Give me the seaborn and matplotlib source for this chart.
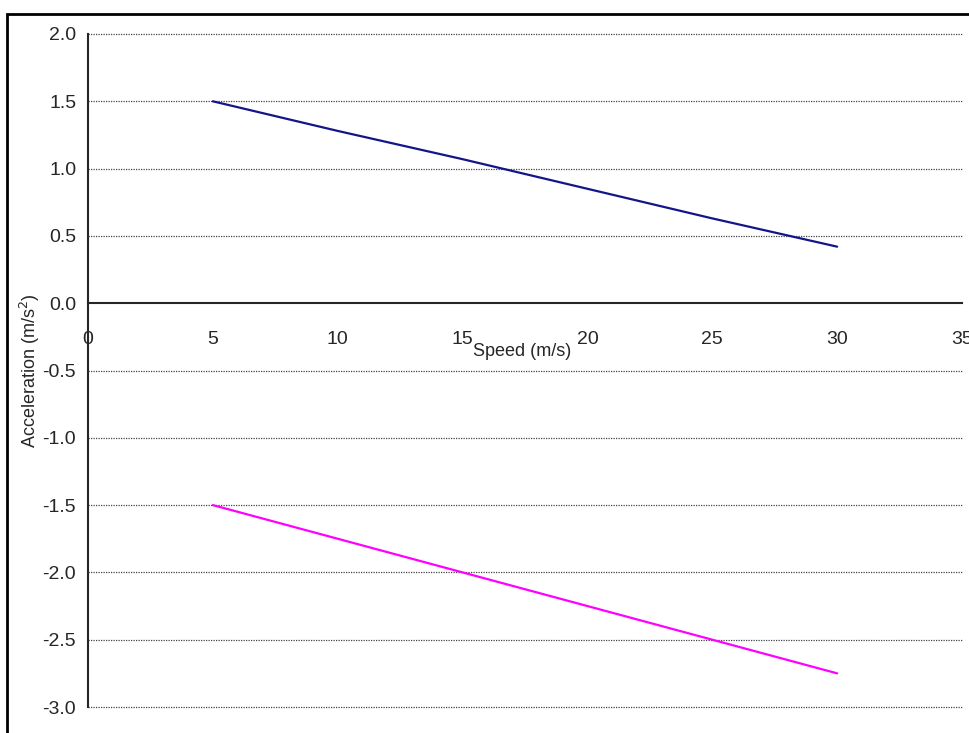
import matplotlib
matplotlib.use("Agg")
import matplotlib.pyplot as plt
import seaborn as sns
import pandas as pd
from matplotlib.patches import Rectangle

# values
speed = [5, 10, 15, 20, 25, 30]
accel_up = [1.5, 1.28, 1.07, 0.85, 0.63, 0.42]
accel_down = [-1.5, -1.75, -2.0, -2.25, -2.5, -2.75]
x_ticks = [0, 5, 10, 15, 20, 25, 30, 35]
y_ticks = [2.0, 1.5, 1.0, 0.5, 0.0, -0.5, -1.0, -1.5, -2.0, -2.5, -3.0]

sns.set_style("white")
plt.rcParams['font.family'] = ['Liberation Sans Narrow', 'Liberation Sans', 'DejaVu Sans']

df = pd.DataFrame({
    'speed': speed + speed,
    'accel': accel_up + accel_down,
    'series': ['up'] * len(speed) + ['down'] * len(speed),
})

fig = plt.figure(figsize=(9.69, 7.33), dpi=100)
ax = fig.add_axes([88 / 969, 1 - 707 / 733, 874 / 969, 673 / 733])

# outer frame of the chart area
fig.patches.append(Rectangle((7 / 969, -0.1), 1.1, 1 - 14 / 733 + 0.1,
                             transform=fig.transFigure, fill=False,
                             edgecolor='black', linewidth=2))

sns.lineplot(data=df, x='speed', y='accel', hue='series',
             palette={'up': '#15158a', 'down': '#ff00ff'},
             linewidth=1.6, legend=False, ax=ax)

# dotted gridlines
for y in y_ticks:
    if y != 0:
        ax.axhline(y, color='#444444', linestyle=(0, (1, 1)), linewidth=0.9,
                   zorder=0, clip_on=False)

ax.set_xlim(0, 35)
ax.set_ylim(-3.0, 2.0)
ax.set_xticks(x_ticks)
ax.set_yticks(y_ticks)
ax.set_yticklabels([f"{v:.1f}" for v in y_ticks])

ax.spines['top'].set_visible(False)
ax.spines['right'].set_visible(False)
ax.spines['bottom'].set_position(('data', 0))
ax.spines['left'].set_linewidth(1.5)
ax.spines['bottom'].set_linewidth(1.5)

ax.tick_params(axis='x', direction='out', length=5, width=1.5, pad=15, labelsize=14)
ax.tick_params(axis='y', direction='out', length=4.5, width=1.5, pad=4, labelsize=14)

ax.set_xlabel('Speed (m/s)', fontsize=13)
ax.xaxis.set_label_coords(0.497, (733 - 343 - 26) / 673)
ax.set_ylabel(r'Acceleration (m/s$^2$)', fontsize=13)
ax.yaxis.set_label_coords(-46 / 874, 0.5)

fig.savefig('out.png', dpi=100)
